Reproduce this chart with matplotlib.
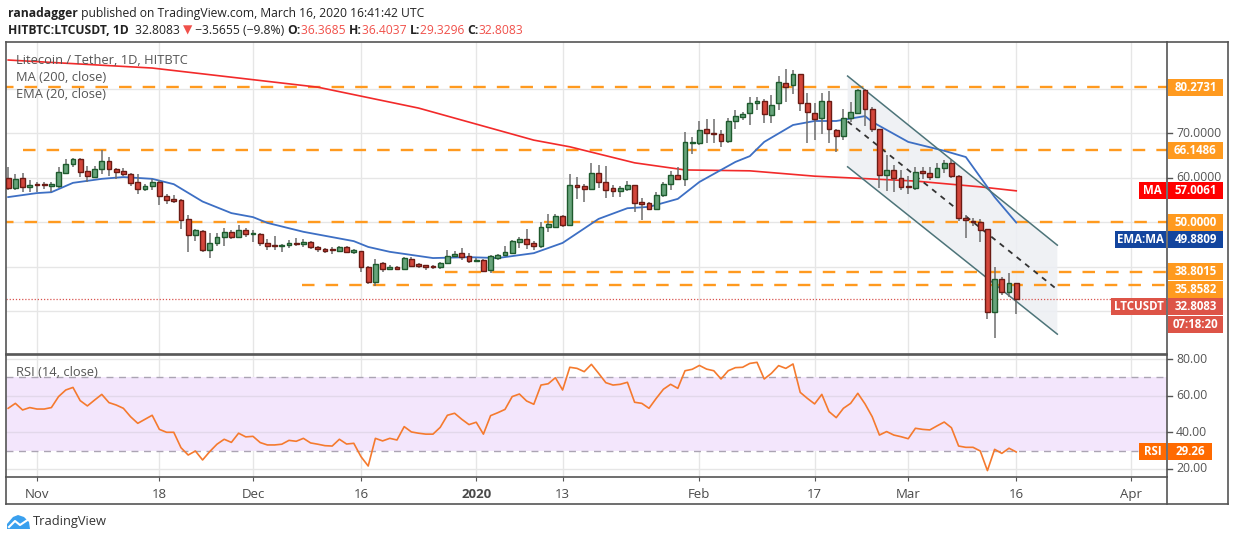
import matplotlib
matplotlib.use("Agg")
import matplotlib.pyplot as plt
import matplotlib.dates as mdates
from matplotlib.patches import Rectangle, Polygon
from matplotlib.lines import Line2D
import pandas as pd

plt.rcParams['font.family'] = ['Open Sans', 'DejaVu Sans']

# daily candles, 2019-10-28 .. 2020-03-16
start_date = "2019-10-28"
opens = [59.8, 57.6, 59.8, 57.8, 58.4, 58.4, 58.2, 58.2, 61.1, 63.1,
         64.1, 61.4, 60.2, 61.9, 63.6, 61.9, 61.4, 60.9, 58.9, 57.5,
         58.2, 59.1, 55.8, 55.1, 54.9, 50.6, 47.1, 48.0, 43.6, 45.2,
         46.7, 47.7, 46.6, 48.3, 47.2, 47.2, 45.2, 44.6, 44.5, 44.8,
         45.3, 45.0, 45.4, 44.3, 43.9, 43.7, 43.4, 44.3, 43.2, 43.5,
         39.8, 36.6, 40.7, 39.5, 40.0, 39.5, 41.6, 40.6, 40.3, 40.1,
         39.8, 40.7, 42.4, 43.0, 42.3, 41.2, 41.5, 39.3, 42.0, 42.6,
         43.1, 45.6, 46.2, 45.3, 44.5, 48.9, 48.9, 51.3, 49.4, 58.3,
         58.1, 57.5, 61.0, 59.1, 57.6, 57.0, 57.5, 58.3, 54.6, 54.3,
         53.0, 56.1, 58.5, 60.5, 59.7, 67.8, 67.8, 70.8, 70.0, 69.7,
         68.1, 72.6, 73.5, 74.4, 76.7, 77.1, 74.0, 76.7, 81.2, 80.8,
         83.2, 76.7, 74.6, 73.3, 77.1, 70.6, 69.4, 73.3, 74.6, 79.7,
         75.5, 70.8, 60.5, 61.6, 59.8, 58.1, 57.6, 61.4, 61.0, 60.2,
         62.1, 63.2, 60.4, 51.0, 50.2, 50.1, 48.5, 29.7, 37.3, 34.2,
         36.3685]
highs = [62.4, 60.8, 61.0, 59.4, 58.9, 59.1, 58.9, 62.4, 64.1, 64.4,
         64.3, 62.6, 62.6, 66.2, 64.5, 62.1, 62.1, 61.0, 60.9, 58.5,
         59.7, 59.4, 56.2, 56.1, 55.2, 51.5, 48.5, 48.2, 47.5, 47.6,
         48.6, 48.1, 49.3, 48.7, 48.3, 47.6, 46.1, 46.9, 45.1, 46.0,
         46.3, 46.1, 45.7, 44.5, 44.1, 44.3, 44.5, 44.5, 43.9, 43.5,
         40.1, 41.7, 41.1, 40.3, 40.1, 42.1, 42.2, 40.9, 40.3, 40.3,
         41.0, 43.7, 43.5, 44.2, 43.0, 41.8, 41.7, 42.6, 42.9, 44.6,
         46.0, 46.7, 48.5, 45.8, 50.1, 51.9, 51.8, 51.5, 60.7, 60.2,
         58.5, 63.3, 62.7, 62.6, 58.3, 58.1, 59.2, 58.3, 55.5, 54.6,
         56.8, 59.1, 61.5, 62.4, 70.2, 69.0, 72.8, 73.1, 73.1, 70.7,
         73.3, 75.2, 74.8, 78.0, 78.0, 77.6, 78.5, 82.8, 84.3, 84.2,
         83.2, 78.9, 76.7, 79.1, 79.4, 71.0, 75.3, 76.9, 80.0, 80.0,
         75.9, 70.8, 65.0, 62.8, 61.7, 60.3, 62.3, 62.4, 62.4, 63.2,
         63.9, 63.9, 60.6, 51.6, 50.8, 50.6, 48.5, 39.8, 37.6, 38.6,
         36.4037]
lows = [57.3, 57.3, 56.8, 56.8, 56.7, 57.5, 56.8, 57.6, 60.8, 62.4,
        60.2, 58.9, 60.0, 60.9, 60.4, 59.6, 60.3, 58.2, 56.2, 57.0,
        57.3, 53.9, 54.1, 54.3, 48.4, 43.3, 45.8, 43.3, 41.8, 44.5,
        44.5, 46.1, 46.3, 46.6, 45.4, 44.5, 43.6, 43.6, 43.3, 44.1,
        44.6, 44.4, 43.9, 43.3, 43.1, 42.8, 43.2, 43.0, 42.8, 38.8,
        36.1, 35.6, 38.8, 39.2, 39.4, 39.4, 40.0, 39.6, 39.2, 39.4,
        39.4, 40.6, 42.1, 41.5, 40.9, 41.0, 39.0, 38.6, 41.5, 42.4,
        42.9, 44.1, 43.9, 43.7, 44.1, 47.8, 48.8, 48.8, 49.3, 55.2,
        54.6, 57.2, 57.7, 55.3, 55.7, 55.7, 57.0, 52.2, 50.5, 52.8,
        52.8, 55.7, 57.2, 59.4, 58.1, 65.2, 67.3, 67.7, 67.7, 66.8,
        67.7, 71.0, 72.9, 71.8, 75.2, 72.2, 72.2, 75.2, 77.0, 78.7,
        75.0, 67.8, 68.4, 69.8, 67.8, 65.8, 68.4, 72.5, 74.4, 71.6,
        70.3, 57.6, 57.0, 56.7, 57.2, 56.2, 57.2, 59.6, 59.4, 60.0,
        61.1, 59.8, 50.3, 46.5, 49.0, 45.4, 28.3, 23.9, 33.6, 33.1,
        29.3296]
closes = [57.7, 59.6, 57.9, 58.3, 58.3, 58.3, 58.4, 61.2, 63.0, 64.2,
          61.3, 60.4, 61.8, 63.6, 61.8, 61.3, 60.9, 58.8, 57.5, 58.2,
          59.1, 55.8, 55.0, 54.8, 50.5, 47.1, 48.2, 43.6, 45.2, 46.6,
          47.7, 46.7, 48.3, 47.2, 47.3, 45.2, 44.5, 44.5, 44.8, 45.3,
          45.0, 45.5, 44.3, 43.9, 43.4, 43.6, 44.3, 43.2, 43.6, 39.8,
          36.6, 40.5, 39.5, 40.0, 39.5, 41.8, 40.2, 40.2, 39.9, 39.8,
          40.7, 42.4, 42.8, 42.2, 41.2, 41.5, 39.1, 42.3, 42.6, 43.2,
          45.7, 46.1, 45.1, 44.7, 48.9, 49.5, 51.3, 49.4, 58.3, 57.9,
          57.5, 61.0, 59.1, 57.2, 57.0, 57.6, 58.3, 54.3, 54.1, 53.0,
          56.1, 58.5, 60.5, 59.7, 67.9, 68.0, 70.6, 69.9, 69.7, 68.1,
          72.7, 73.8, 74.3, 76.7, 77.2, 74.2, 76.4, 81.4, 80.4, 83.2,
          76.7, 74.8, 73.2, 77.1, 71.0, 69.4, 73.3, 74.8, 79.7, 75.5,
          71.0, 60.6, 61.7, 59.8, 57.9, 57.8, 61.2, 61.0, 60.2, 62.1,
          63.2, 60.4, 51.0, 50.4, 49.9, 48.3, 29.7, 37.3, 34.2, 36.2,
          32.8083]

rsi = [53.1, 55.8, 52.2, 53.5, 52.7, 52.7, 53.5, 59.5, 63.1, 64.5,
       57.3, 54.4, 57.6, 60.7, 56.2, 54.9, 53.1, 48.5, 44.9, 47.1,
       49.3, 41.6, 40.0, 40.0, 31.6, 27.6, 29.8, 24.9, 29.5, 33.5,
       36.2, 34.5, 39.5, 37.5, 37.8, 34.4, 33.1, 33.1, 33.5, 35.6,
       35.1, 36.7, 34.2, 33.5, 32.7, 32.5, 36.2, 33.6, 34.0, 26.7,
       21.6, 36.7, 35.3, 36.7, 35.8, 43.1, 40.2, 39.5, 39.0, 39.0,
       42.7, 49.3, 50.4, 47.1, 44.2, 45.5, 39.0, 49.1, 50.7, 52.5,
       59.5, 60.9, 57.1, 55.3, 65.8, 66.5, 69.8, 63.1, 75.5, 74.9,
       73.1, 77.1, 72.2, 67.1, 65.8, 66.2, 67.3, 56.4, 55.8, 53.1,
       58.5, 63.5, 66.2, 64.0, 73.6, 74.4, 76.5, 74.5, 73.6, 69.1,
       73.6, 75.3, 75.5, 77.6, 78.2, 69.1, 72.2, 76.4, 74.9, 77.3,
       61.8, 58.5, 55.5, 60.7, 51.3, 48.0, 53.1, 55.8, 61.3, 55.5,
       48.5, 38.5, 40.4, 38.5, 37.6, 36.5, 42.2, 41.6, 41.3, 43.5,
       45.6, 42.5, 32.5, 31.8, 31.8, 29.8, 19.1, 30.7, 28.5, 31.3,
       29.26]

# moving averages, read at a few candles (index into the candle list)
ma200_idx = [0, 20, 43, 57, 73, 78, 87, 94, 103, 112, 126, 135, 140]
ma200_val = [86.4, 84.6, 80.3, 75.6, 68.4, 66.9, 63.3, 61.7, 61.5, 60.3, 59.2, 57.9, 57.0061]
ema20_idx = [0, 4, 6, 9, 13, 16, 20, 23, 27, 31, 34, 36, 41, 45, 48, 50, 53, 56, 59,
             64, 68, 73, 77, 82, 86, 89, 93, 96, 101, 103, 105, 109, 112, 115, 119,
             120, 125, 130, 133, 135, 137, 140]
ema20_val = [55.6, 56.5, 56.7, 58.8, 59.7, 60.1, 59.7, 58.5, 54.6, 52.0, 51.1, 49.8,
             47.8, 46.6, 45.7, 44.4, 43.3, 42.6, 41.9, 42.1, 41.9, 43.0, 45.3, 50.7,
             53.1, 53.4, 55.2, 59.0, 63.5, 64.8, 68.0, 71.8, 72.7, 72.7, 73.8, 72.5,
             68.0, 66.0, 64.6, 60.1, 55.6, 49.8809]

# horizontal support / resistance levels and where each starts
levels = [80.2731, 66.1486, 50.0, 38.8015, 35.8582]
level_start = ["2019-10-27", "2019-10-30", "2019-10-27", "2019-12-27 16:00", "2019-12-07 20:00"]

# descending channel drawing
chan_x = ["2020-02-21 14:00", "2020-03-21 17:00"]
chan_upper = [82.8, 44.8]
chan_lower = [62.4, 24.8]

last_close = 32.8083
tick_dates = ["2019-11-01", "2019-11-18", "2019-12-01", "2019-12-16", "2020-01-01", "2020-01-13",
              "2020-02-01", "2020-02-17", "2020-03-01", "2020-03-16", "2020-04-01"]
tick_labels = ["Nov", "18", "Dec", "16", "2020", "13", "Feb", "17", "Mar", "16", "Apr"]

ORANGE = "#FF9A1F"
GREEN_FILL, GREEN_EDGE = "#67A47B", "#1E5A2D"
RED_FILL, RED_EDGE = "#D3463B", "#6B1B14"
FRAME = "#555555"
GRID = "#E6E6E6"

W, H = 1234, 541
fig = plt.figure(figsize=(W / 100, H / 100), dpi=100)


def fx(px):
    return px / W


def fy(py):
    return 1 - py / H


ax = fig.add_axes([fx(6.3), fy(354), fx(1167) - fx(6.3), fy(42) - fy(354)])
ax_rsi = fig.add_axes([fx(6.3), fy(477), fx(1167) - fx(6.3), fy(355) - fy(477)], sharex=ax)

dates = mdates.date2num(pd.date_range(start_date, periods=len(closes), freq="D"))
x_left = mdates.date2num(pd.Timestamp("2019-10-28")) - 0.26
x_right = mdates.date2num(pd.Timestamp("2020-04-06")) - 0.06
ax.set_xlim(x_left, x_right)
ax.set_ylim(20.34, 90.45)
ax_rsi.set_ylim(15.6, 82.2)

# grid
ticks = mdates.date2num(pd.to_datetime(tick_dates))
for a in (ax, ax_rsi):
    for t in ticks:
        a.axvline(t, color=GRID, lw=1, zorder=0)
for yv in [30, 40, 50, 60, 70, 80]:
    ax.axhline(yv, color=GRID, lw=1, zorder=0)

# channel
cx = mdates.date2num(pd.to_datetime(chan_x))
ax.add_patch(Polygon([(cx[0], chan_upper[0]), (cx[1], chan_upper[1]),
                      (cx[1], chan_lower[1]), (cx[0], chan_lower[0])],
                     closed=True, fc="#EDEFF3", ec="none", alpha=0.85, zorder=1))
ax.plot(cx, chan_upper, color="#4D7479", lw=1.1, zorder=4)
ax.plot(cx, chan_lower, color="#4D7479", lw=1.1, zorder=4)
ax.plot(cx, [(chan_upper[0] + chan_lower[0]) / 2, (chan_upper[1] + chan_lower[1]) / 2],
        color="#333333", lw=1.3, ls=(0, (3, 3)), zorder=4)

# levels
for lv, st in zip(levels, level_start):
    ax.hlines(lv, mdates.date2num(pd.Timestamp(st)), x_right, color=ORANGE, lw=1.7,
              linestyles=[(0, (5.3, 4.7))], zorder=2)
ax.axhline(last_close, color="#D9534F", lw=0.9, ls=(0, (1, 1.5)), zorder=2)

# moving averages
ax.plot(dates[ma200_idx], ma200_val, color="#F22A2A", lw=1.2, zorder=3)
ax.plot(dates[ema20_idx], ema20_val, color="#3D6FC4", lw=1.3, zorder=3)

# candles
for d, o, h, l, c in zip(dates, opens, highs, lows, closes):
    ax.vlines(d, l, h, color="#6E6E6E", lw=1.1, zorder=5)
    up = c >= o
    ht = max(abs(c - o), 0.25)
    ax.bar(d, ht, bottom=min(o, c), width=0.66, color=GREEN_FILL if up else RED_FILL,
           edgecolor=GREEN_EDGE if up else RED_EDGE, lw=1, zorder=6)

# RSI panel
ax_rsi.axhspan(30, 70, color="#F3E6FC", zorder=0, lw=0)
for yv in [20, 40, 60, 80]:
    ax_rsi.axhline(yv, color="#E2D8EA" if 30 < yv < 70 else GRID, lw=1, zorder=1)
for yv in [30, 70]:
    ax_rsi.axhline(yv, color="#ABA4B3", lw=1, ls=(0, (5, 4)), zorder=1)
ax_rsi.plot(dates, rsi, color="#F57A2E", lw=1.2, zorder=3)

for a in (ax, ax_rsi):
    for s in a.spines.values():
        s.set_color(FRAME)
        s.set_linewidth(1.2)
    a.set_yticks([])
ax.tick_params(axis="x", length=0, labelbottom=False)
ax_rsi.set_xticks(ticks)
ax_rsi.set_xticklabels(tick_labels)
ax_rsi.tick_params(axis="x", length=3, direction="out", color=FRAME, pad=5,
                   labelsize=9.5, labelcolor="#4A4A4A")
for lab in ax_rsi.get_xticklabels():
    if lab.get_text() == "2020":
        lab.set_fontweight("bold")

# outer frame of the price scale / time scale
for (x0, y0, x1, y1) in [(1167, 477, 1167, 504), (1228, 42, 1228, 504), (6.3, 504, 1228, 504),
                         (6.3, 477, 6.3, 504), (1167, 42, 1228, 42)]:
    fig.add_artist(Line2D([fx(x0), fx(x1)], [fy(y0), fy(y1)], color=FRAME, lw=1.2))


def ypx(a, val):
    return H - a.transData.transform((x_left, val))[1]


def tag(text, ypos, fc, x0=1168, x1=1223, h=17, fs=8.3):
    fig.add_artist(Rectangle((fx(x0), fy(ypos + h / 2)), fx(x1 - x0), h / H,
                             transform=fig.transFigure, fc=fc, ec="none"))
    fig.text(fx((x0 + x1) / 2), fy(ypos), text, color="white", fontsize=fs,
             fontweight="bold", ha="center", va="center")


def tick_text(text, ypos):
    fig.add_artist(Line2D([fx(1167), fx(1172)], [fy(ypos), fy(ypos)], color=FRAME, lw=1))
    fig.text(fx(1176), fy(ypos), text, color="#555555", fontsize=8.8, ha="left", va="center")


tick_text("70.0000", ypx(ax, 70))
tick_text("60.0000", ypx(ax, 60))
tag("80.2731", ypx(ax, 80.2731), ORANGE)
tag("66.1486", ypx(ax, 66.1486), ORANGE)
tag("57.0061", ypx(ax, 57.0061), "#FF0000")
tag("MA", ypx(ax, 57.0061), "#FF0000", x0=1139, x1=1166)
tag("50.0000", ypx(ax, 50.0), ORANGE)
y_ema = ypx(ax, 50.0) + 17.5
tag("49.8809", y_ema, "#13459E")
tag("EMA:MA", y_ema, "#13459E", x0=1115, x1=1166)
tag("38.8015", ypx(ax, 38.8015), ORANGE)
y_s2 = ypx(ax, 38.8015) + 17.3
tag("35.8582", y_s2, ORANGE)
y_last = y_s2 + 17.3
tag("32.8083", y_last, "#DD5447")
tag("LTCUSDT", y_last, "#DD5447", x0=1111, x1=1166)
tag("07:18:20", y_last + 17.7, "#DD5447")

for v in [80, 60, 40, 20]:
    tick_text(f"{v}.00", ypx(ax_rsi, v))
tag("29.26", ypx(ax_rsi, 29.26), "#FF6A00", x1=1212)
tag("RSI", ypx(ax_rsi, 29.26), "#FF6A00", x0=1139, x1=1166)

# legends inside the panes
ax.text(fx(16), fy(60), "Litecoin / Tether, 1D, HITBTC", transform=fig.transFigure,
        fontsize=9.3, color="#555555", va="center", zorder=10)
ax.text(fx(16), fy(77.5), "MA (200, close)", transform=fig.transFigure,
        fontsize=9.3, color="#555555", va="center", zorder=10)
ax.text(fx(16), fy(95), "EMA (20, close)", transform=fig.transFigure,
        fontsize=9.3, color="#555555", va="center", zorder=10)
ax_rsi.text(fx(16), fy(372.5), "RSI (14, close)", transform=fig.transFigure,
            fontsize=9.3, color="#555555", va="center", zorder=10)

# header lines
renderer = fig.canvas.get_renderer()


def write_run(x, y, pieces, fs):
    for s, color, weight in pieces:
        t = fig.text(fx(x), fy(y), s, color=color, fontsize=fs, fontweight=weight,
                     ha="left", va="center")
        x += t.get_window_extent(renderer=renderer).width


DARK = "#222222"
VAL = "#F0504A"
write_run(8, 13, [("ranadagger", DARK, "bold"),
                  (" published on TradingView.com, March 16, 2020 16:41:42 UTC", DARK, "normal")], 8.7)
write_run(8, 30, [("HITBTC:LTCUSDT, 1D ", DARK, "bold"), (" 32.8083 ", DARK, "normal"),
                  ("\u25BC", VAL, "normal"), (" \u22123.5655 (\u22129.8%) ", DARK, "normal"),
                  ("O:", DARK, "bold"), ("36.3685 ", VAL, "normal"),
                  ("H:", DARK, "bold"), ("36.4037 ", VAL, "normal"),
                  ("L:", DARK, "bold"), ("29.3296 ", VAL, "normal"),
                  ("C:", DARK, "bold"), ("32.8083", VAL, "normal")], 8.7)

# TradingView logo
fig.add_artist(Polygon([(fx(7), fy(529)), (fx(7), fy(524)), (fx(13), fy(517)), (fx(18), fy(515)),
                        (fx(24), fy(517)), (fx(29), fy(522)), (fx(30), fy(529))],
                       closed=True, transform=fig.transFigure, fc="#3AA0EE", ec="none"))
fig.add_artist(Line2D([fx(9), fx(15), fx(20), fx(29)], [fy(527), fy(521), fy(525), fy(519)],
                      color="white", lw=1.5))
fig.text(fx(33), fy(522), "TradingView", fontsize=9.3, color="#333333", ha="left", va="center")

fig.savefig("out.png", dpi=100)
